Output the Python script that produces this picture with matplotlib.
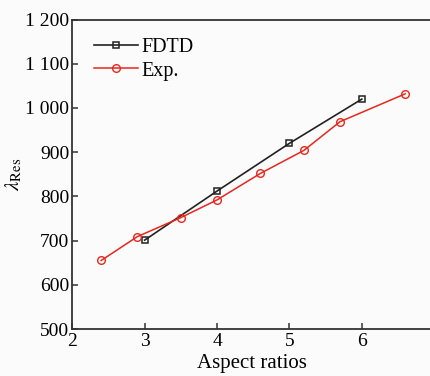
import matplotlib
matplotlib.use('Agg')
import matplotlib.pyplot as plt
from matplotlib.ticker import FuncFormatter

plt.rcParams['font.family'] = 'Liberation Serif'
plt.rcParams['mathtext.fontset'] = 'stix'

# data
fdtd_x = [3, 4, 5, 6]
fdtd_y = [701, 812, 920, 1020]
exp_x = [2.4, 2.9, 3.5, 4.0, 4.6, 5.2, 5.7, 6.6]
exp_y = [655, 709, 752, 792, 852, 904, 969, 1032]

x_ticks = [2, 3, 4, 5, 6]
y_ticks = [500, 600, 700, 800, 900, 1000, 1100, 1200]

fig = plt.figure(figsize=(4.3, 3.76), dpi=100, facecolor='#fbfbfb')
ax = fig.add_axes([0.168, 0.125, 0.835, 0.823])
ax.set_facecolor('#fbfbfb')

ax.plot(fdtd_x, fdtd_y, color='#222222', lw=1.2, marker='s', ms=5,
        mfc='none', mec='#222222', mew=1.1, label='FDTD')
ax.plot(exp_x, exp_y, color='#e8271c', lw=1.1, marker='o', ms=5.5,
        mfc='none', mec='#e8271c', mew=1.0, label='Exp.')

ax.set_xlim(2, 6.96)
ax.set_ylim(500, 1200)
ax.set_xticks(x_ticks)
ax.set_yticks(y_ticks)
ax.yaxis.set_major_formatter(FuncFormatter(
    lambda v, p: f'{int(v):,}'.replace(',', ' ')))

ax.spines['right'].set_visible(False)
for s in ['left', 'bottom', 'top']:
    ax.spines[s].set_linewidth(1.3)
    ax.spines[s].set_color('#333333')

ax.tick_params(direction='in', length=4, width=1.1, labelsize=14,
               color='#333333', pad=3)
ax.tick_params(axis='y', pad=2)

ax.set_xlabel('Aspect ratios', fontsize=15, labelpad=3)
ax.set_ylabel(r'$\lambda_{\rm Res}$', fontsize=15, labelpad=1)

ax.legend(loc='upper left', bbox_to_anchor=(0.02, 0.985), frameon=False,
          fontsize=14.5, handlelength=2.2, handletextpad=0.2,
          labelspacing=0.2, borderaxespad=0.3)

plt.savefig('out.png', dpi=100, facecolor=fig.get_facecolor())
